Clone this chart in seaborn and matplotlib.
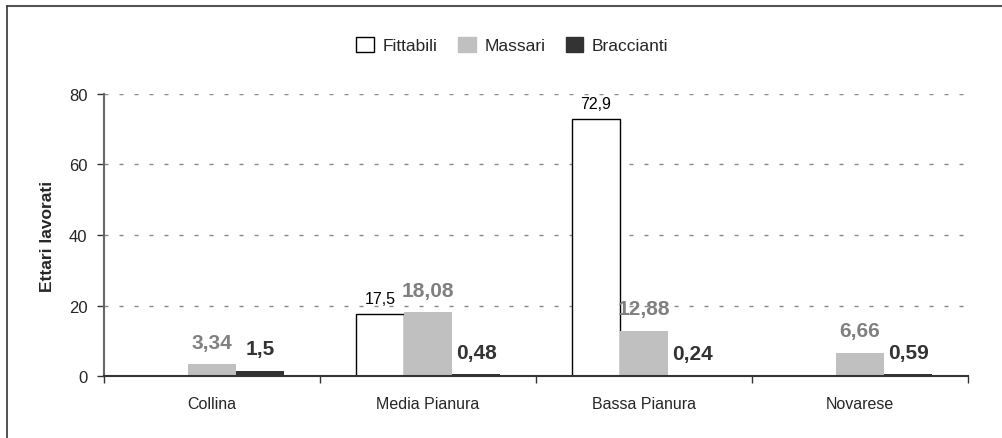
import pandas as pd
import numpy as np
import matplotlib.pyplot as plt
from matplotlib.patches import Patch
from matplotlib.lines import Line2D
import seaborn as sns

# ─────────────────────────────────────────
# DATA
# ─────────────────────────────────────────
zone = ['Collina', 'Media Pianura', 'Bassa Pianura', 'Novarese']
fittabili = [np.nan, 17.5, 72.9, np.nan]
massari = [3.34, 18.08, 12.88, 6.66]
braccianti = [1.5, 0.48, 0.24, 0.59]

series = ['Fittabili', 'Massari', 'Braccianti']
fill_colors = ['#FFFFFF', '#C0C0C0', '#333333']
label_colors = ['#000000', '#808080', '#333333']

df = pd.DataFrame({
    'Zona': zone * 3,
    'Categoria': [s for s in series for _ in zone],
    'Ettari': fittabili + massari + braccianti,
})

# ─────────────────────────────────────────
# PLOT
# ─────────────────────────────────────────
sns.set_style('white')
plt.rcParams['font.family'] = ['Liberation Sans', 'DejaVu Sans']

fig = plt.figure(figsize=(10.03, 4.39), dpi=100)
ax = fig.add_axes([0.1037, 0.141, 0.8614, 0.643])

sns.barplot(data=df, x='Zona', y='Ettari', hue='Categoria', order=zone,
            hue_order=series, palette=fill_colors, width=0.667, gap=0,
            saturation=1, linewidth=0, ax=ax, legend=False)

# white bars get a black outline
for bar in ax.containers[0]:
    bar.set_edgecolor('black')
    bar.set_linewidth(1)

# value labels (comma decimals)
for i, cont in enumerate(ax.containers):
    labs = []
    for bar in cont:
        h = bar.get_height()
        labs.append('' if np.isnan(h) else f'{h:g}'.replace('.', ','))
    if i == 0:
        ax.bar_label(cont, labels=labs, padding=6, fontsize=11.5, color=label_colors[i])
    else:
        ax.bar_label(cont, labels=labs, padding=9, fontsize=15, fontweight='bold',
                     color=label_colors[i])

ax.set_ylim(0, 80)
ax.set_yticks([0, 20, 40, 60, 80])
ax.set_xlim(-0.5, 3.5)
ax.set_xlabel('')
ax.set_ylabel('Ettari lavorati', fontsize=12.5, fontweight='bold', labelpad=10)

ax.yaxis.grid(True, color='#888888', linestyle=(0, (2.9, 7.9)), linewidth=1)
ax.set_axisbelow(True)

for s in ['top', 'right']:
    ax.spines[s].set_visible(False)
ax.spines['left'].set_color('#666666')
ax.spines['left'].set_linewidth(1.5)
ax.spines['bottom'].set_color('#333333')
ax.spines['bottom'].set_linewidth(1.5)

ax.tick_params(axis='y', left=True, length=5, width=1, color='#333333',
               pad=7, labelsize=12)
ax.tick_params(axis='x', which='major', length=0, pad=14, labelsize=11.5)
ax.set_xticks([-0.5, 0.5, 1.5, 2.5, 3.5], minor=True)
ax.tick_params(axis='x', which='minor', bottom=True, length=5, width=1, color='#333333')

# legend
handles = [Patch(facecolor=c, edgecolor='black' if c == '#FFFFFF' else c, linewidth=1)
           for c in fill_colors]
fig.legend(handles, series, loc='center', bbox_to_anchor=(0.511, 0.895), ncol=3,
           frameon=False, fontsize=12.5, handlelength=1.0, handleheight=1.0,
           handletextpad=0.5, columnspacing=1.2)

# chart frame (top and left edges)
fig.add_artist(Line2D([7 / 1003, 1.0], [1 - 7 / 439, 1 - 7 / 439],
                      transform=fig.transFigure, color='#555555', linewidth=1.5))
fig.add_artist(Line2D([7 / 1003, 7 / 1003], [0, 1 - 7 / 439],
                      transform=fig.transFigure, color='#333333', linewidth=1.2))

plt.savefig('out.png', dpi=100)
